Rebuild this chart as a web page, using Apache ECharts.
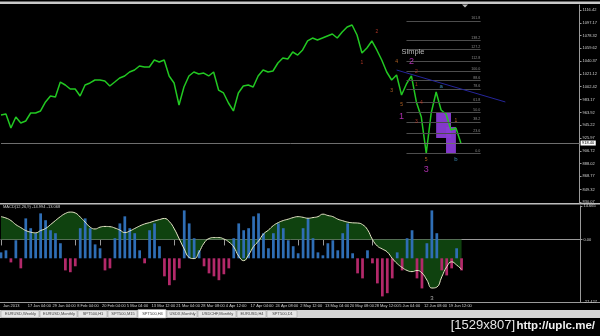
<!DOCTYPE html>
<html><head><meta charset="utf-8">
<script src="https://cdn.jsdelivr.net/npm/echarts@6/dist/echarts.min.js"></script>
<style>html,body{margin:0;padding:0;background:#000;}#c{width:600px;height:336px;}</style>
</head><body><div id="c"></div>
<script>
// ---------- data ----------
const dateLabels = ['Jan 2013','17 Jan 04:00','29 Jan 04:00','8 Feb 04:00','20 Feb 04:00','5 Mar 04:00','13 Mar 12:00','21 Mar 04:00','28 Mar 08:00','4 Apr 12:00','17 Apr 04:00','24 Apr 08:00','2 May 12:00','13 May 04:00','20 May 08:00','28 May 12:00','5 Jun 04:00','12 Jun 08:00','19 Jun 12:00'];
const priceTickLabels = ['830.07','849.32','868.77','888.02','906.72','925.97','945.22','963.92','983.17','1002.42','1021.12','1040.37','1059.62','1078.32','1097.17','1116.42'];
const macdTickLabels = ['-27.427','0.00','14.665'];
const price = [960.1,961.6,940.8,957.1,948.2,951.2,963.1,963.1,966.1,979.5,
 988.4,986.9,1009.2,1004.8,998.8,998.8,988.4,1004.8,1007.8,1012.2,
 1012.2,1010.7,1003.3,1009.2,1015.2,1018.2,1024.1,1027.1,1033.1,1031.6,
 1031.6,1042.0,1039.0,1042.0,1018.2,1007.8,975.0,1001.8,1018.2,1024.1,
 1021.2,1022.6,1018.2,1024.1,997.3,992.9,978.0,966.1,992.9,1003.3,
 1004.8,1001.8,1018.2,1027.1,1024.1,1025.6,1037.5,1045.0,1043.5,1053.9,
 1049.4,1056.9,1070.3,1074.7,1071.8,1074.7,1077.7,1080.7,1074.7,1083.7,
 1091.1,1094.1,1079.2,1052.4,1059.9,1070.3,1056.9,1042.0,1024.1,1012.2,
 1019.7,989.9,1006.3,1018.2,979.5,957.1,903.5,963.1,994.4,967.6,
 961.6,937.8,940.8,918.4];
const signal = [10.0,9.4,8.3,6.5,5.2,3.9,3.2,2.9,3.9,4.8,
 6.5,8.3,10.0,11.4,12.0,11.6,9.8,7.6,5.4,4.6,
 5.4,5.7,5.6,5.0,4.1,3.0,3.7,4.8,5.9,6.8,
 7.4,8.1,8.7,9.2,7.8,4.6,0.2,-4.2,-7.9,-8.4,
 -5.5,-1.6,0.4,0.8,0.8,0.2,-1.1,-3.3,-7.3,-9.3,
 -6.8,-3.1,-0.7,2.4,4.1,6.1,7.4,8.3,8.9,9.6,
 10.0,9.7,9.3,9.6,10.0,11.1,10.5,10.0,8.9,8.2,
 7.6,7.3,7.2,6.5,4.3,0.0,-2.9,-4.2,-5.5,-8.3,
 -10.6,-12.3,-13.6,-14.1,-13.6,-14.7,-17.8,-21.3,-20.9,-16.4,
 -12.0,-9.8,-11.2,-13.1];
const histogram = [2.6,3.5,-1.8,7.9,-4.4,17.5,13.2,11.0,19.7,16.7,
 12.3,11.0,6.6,-5.3,-6.1,-3.5,13.2,17.5,13.2,6.1,
 4.4,-5.3,-4.4,8.8,15.3,18.4,13.2,11.0,3.5,-2.2,
 12.3,15.3,5.3,-7.9,-11.8,-9.6,-4.4,21.0,15.3,8.8,
 3.5,-3.5,-6.6,-7.9,-9.6,-7.0,-4.4,8.8,15.3,12.3,
 13.2,18.4,19.7,11.0,4.4,11.0,15.3,13.2,7.9,5.3,
 2.2,13.2,17.5,8.8,2.6,1.3,6.6,7.9,3.5,11.0,
 15.3,2.2,-6.6,-8.8,3.5,-2.2,-11.0,-16.7,-15.3,-8.8,
 2.6,-5.3,8.8,12.3,-8.8,-13.2,6.6,21.0,11.0,-5.3,
 -7.5,-4.4,4.4,-5.3];
const fibLevels = ['0.0','23.6','38.2','50.0','61.8','78.6','88.6','100.0','112.8','127.2','138.2','161.8'];
const fibLow = 903.5, fibHigh = 1025.2;
const fibSpan = [82, 97];
const trendLine = [[80, 1027.1], [102, 979.5]];
const boxes = [[[88, 964.6], [91, 925.9]], [[90, 942.3], [92, 903.5]]];
const redWaves = [[76,1083.7,'2'],[73,1037.5,'1'],[84,1024.1,'2'],[84,1004.8,'1'],[85,978.0,'4'],[84,949.7,'3']];
const orangeWaves = [[80,1039.0,'4'],[79,995.8,'3'],[81,975.0,'5'],[86,893.1,'5'],[92,951.2,'1']];
const magentaWaves = [[83,1039.0,'2'],[81,958.6,'1'],[86,879.6,'3']];
const cyanWaves = [[89,1003.3,'a'],[92,894.5,'b']];
const chartNotes = [[81,1053.9,'Simple']];
const macdNotes = [[87,-25.7,'3']];
const macdTitle = 'MACD(12,26,9) -14.994 -13.068';
const tabNames = ['EURUSD,Weekly','EURUSD,Monthly','SPT500,H1','SPT500,M15','SPT500,H4','USDX,Monthly','USDCHF,Monthly','EURUSD,H4','SPT500,D1'];
const activeTab = 4;
const categoryCount = 118;

// ---------- build ----------
const cats = Array.from({length: categoryCount}, (_, i) => String(i));
const priceTicks = priceTickLabels.map(Number);
const macdTicks = macdTickLabels.map(Number);
const lastPrice = price[price.length - 1];
const FONT = 'Liberation Sans';
const labelShown = (i) => i % 5 === 0 && i / 5 < dateLabels.length;

const fibLines = fibLevels.map(l => {
  const v = fibLow + (fibHigh - fibLow) * parseFloat(l) / 100;
  return [{name: l, coord: [fibSpan[0], v], lineStyle: {color: '#4d4d4d', width: 1, type: 'solid'},
           label: {show: true, position: 'insideEndTop', formatter: '{b}', color: '#8a8a8a', fontSize: 3.6, distance: 0.5, fontFamily: FONT}},
          {coord: [fibSpan[1], v]}];
});

function waveSeries(data, color, size, align) {
  return {type: 'scatter', xAxisIndex: 0, yAxisIndex: 0, data: data, symbolSize: 1, z: 6,
    itemStyle: {color: 'transparent'}, silent: true,
    label: {show: true, position: 'inside', formatter: p => p.data[2], color: color, fontSize: size, fontFamily: FONT, align: align || 'center'}};
}

const g = [];
g.push({type: 'rect', shape: {x: 0, y: 1.5, width: 600, height: 2.5}, style: {fill: '#c9c9c9'}, silent: true});
g.push({type: 'rect', shape: {x: 0, y: 203, width: 600, height: 1.6}, style: {fill: '#bdbdbd'}, silent: true});
g.push({type: 'rect', shape: {x: 0, y: 302, width: 600, height: 1}, style: {fill: '#9a9a9a'}, silent: true});
g.push({type: 'rect', shape: {x: 0, y: 310, width: 600, height: 8}, style: {fill: '#d6d6d6'}, silent: true});
g.push({type: 'polygon', shape: {points: [[462, 4.5], [468, 4.5], [465, 7.5]]}, style: {fill: '#bbbbbb'}, silent: true});
const tabEdges = [1, 40, 78, 108, 138, 167, 198, 237, 267, 298];
tabNames.forEach((t, i) => {
  const x0 = tabEdges[i], x1 = tabEdges[i + 1], act = i === activeTab;
  g.push({type: 'rect', shape: {x: x0, y: act ? 309.5 : 310.5, width: x1 - x0 - 1, height: act ? 8.5 : 7},
    style: {fill: act ? '#ffffff' : '#e6e6e6', stroke: '#9a9a9a', lineWidth: 0.5}, silent: true});
  g.push({type: 'text', x: (x0 + x1) / 2, y: 314, silent: true,
    style: {text: t, fontSize: 4, fontFamily: FONT, fill: '#444', align: 'center', textAlign: 'center', verticalAlign: 'middle', textVerticalAlign: 'middle'}});
});
g.push({type: 'text', x: 3, y: 205.3, silent: true,
  style: {text: macdTitle, fontSize: 4, fontFamily: FONT, fill: '#d0d0d0', align: 'left', textAlign: 'left', verticalAlign: 'top', textVerticalAlign: 'top'}});
g.push({type: 'text', x: 595, y: 325.5, silent: true,
  style: {text: 'http://uplc.me/', fontSize: 11.5, fontWeight: 'bold', fontFamily: FONT, fill: '#f0f0f0', align: 'right', textAlign: 'right', verticalAlign: 'middle', textVerticalAlign: 'middle'}});
g.push({type: 'text', x: 515, y: 325.5, silent: true,
  style: {text: '[1529x807]', fontSize: 13, fontFamily: FONT, fill: '#e6e6e6', align: 'right', textAlign: 'right', verticalAlign: 'middle', textVerticalAlign: 'middle'}});

const option = {
  backgroundColor: '#000',
  animation: false,
  textStyle: {fontFamily: FONT},
  grid: [{left: 1, right: 18, top: 5, height: 198}, {left: 1, right: 18, top: 206, height: 96}],
  xAxis: [
    {gridIndex: 0, type: 'category', data: cats, boundaryGap: false,
     axisLine: {show: false}, axisTick: {show: false}, axisLabel: {show: false}, splitLine: {show: false}},
    {gridIndex: 1, type: 'category', data: cats, boundaryGap: false,
     axisLine: {show: true, lineStyle: {color: '#9a9a9a'}},
     axisTick: {show: true, interval: (i) => labelShown(i), length: 6, lineStyle: {color: '#9a9a9a'}},
     axisLabel: {interval: (i) => labelShown(i), formatter: (v, i) => labelShown(i) ? dateLabels[i / 5] : '',
       align: 'left', color: '#d0d0d0', fontSize: 4, margin: 2, padding: [0, 0, 0, 2]},
     splitLine: {show: false}}
  ],
  yAxis: [
    {gridIndex: 0, type: 'value', position: 'right', min: 829.12, max: 1123.86, scale: true,
     axisLine: {show: true, lineStyle: {color: '#9a9a9a'}},
     axisTick: {show: true, customValues: priceTicks, length: 2, lineStyle: {color: '#9a9a9a'}},
     axisLabel: {customValues: priceTicks, formatter: v => v.toFixed(2), color: '#d0d0d0', fontSize: 4, margin: 3},
     splitLine: {show: false}},
    {gridIndex: 1, type: 'value', position: 'right', min: -27.427, max: 14.665,
     axisLine: {show: true, lineStyle: {color: '#9a9a9a'}},
     axisTick: {show: true, customValues: macdTicks, length: 2, lineStyle: {color: '#9a9a9a'}},
     axisLabel: {customValues: macdTicks, formatter: v => macdTickLabels[macdTicks.indexOf(v)] || v.toFixed(3), color: '#d0d0d0', fontSize: 4, margin: 3},
     splitLine: {show: false}},
    {gridIndex: 1, type: 'value', show: false, min: -19.16, max: 22.93, splitLine: {show: false}}
  ],
  series: [
    {type: 'line', name: 'price', xAxisIndex: 0, yAxisIndex: 0, data: price, symbol: 'none', z: 3,
     lineStyle: {color: '#22c822', width: 1.5}, itemStyle: {color: '#22c822'},
     markLine: {silent: true, symbol: ['none', 'none'], animation: false,
       data: fibLines.concat([
         [{coord: trendLine[0], lineStyle: {color: '#25259a', width: 1, type: 'solid'}, label: {show: false}}, {coord: trendLine[1]}],
         {yAxis: lastPrice, lineStyle: {color: '#6e6e6e', width: 1, type: 'solid'},
          label: {show: true, position: 'end', distance: 1, formatter: lastPrice.toFixed(2), backgroundColor: '#ffffff', color: '#000', fontSize: 4, padding: [0.5, 1.5], fontFamily: FONT}}
       ])},
     markArea: {silent: true, itemStyle: {color: '#8a3cd6', opacity: 0.95},
       data: boxes.map(b => [{coord: b[0]}, {coord: b[1]}])}},
    waveSeries(redWaves, '#d0402c', 5),
    waveSeries(orangeWaves, '#de7a2c', 5),
    waveSeries(magentaWaves, '#d23ad2', 9),
    waveSeries(cyanWaves, '#4aa6d8', 6),
    waveSeries(chartNotes, '#e0e0e0', 7.5, 'left'),
    {type: 'line', name: 'macdArea', xAxisIndex: 1, yAxisIndex: 1, data: signal, symbol: 'none', smooth: true, z: 1,
     lineStyle: {width: 0, opacity: 0}, areaStyle: {color: '#0f420f', opacity: 1}, silent: true},
    {type: 'bar', name: 'osma', xAxisIndex: 1, yAxisIndex: 2, data: histogram, z: 2, barCategoryGap: '45%',
     itemStyle: {color: p => p.value >= 0 ? '#2f6eb5' : '#b3296a'}},
    {type: 'line', name: 'signal', xAxisIndex: 1, yAxisIndex: 1, data: signal, symbol: 'none', smooth: true, z: 4,
     lineStyle: {color: '#e8e8c8', width: 1}},
    {type: 'scatter', xAxisIndex: 1, yAxisIndex: 1, data: macdNotes, symbolSize: 1, z: 6, itemStyle: {color: 'transparent'},
     label: {show: true, position: 'inside', formatter: p => p.data[2], color: '#cfcfcf', fontSize: 6, fontFamily: FONT}}
  ],
  graphic: g
};
const chart = echarts.init(document.getElementById('c'));
chart.setOption(option);
</script></body></html>
